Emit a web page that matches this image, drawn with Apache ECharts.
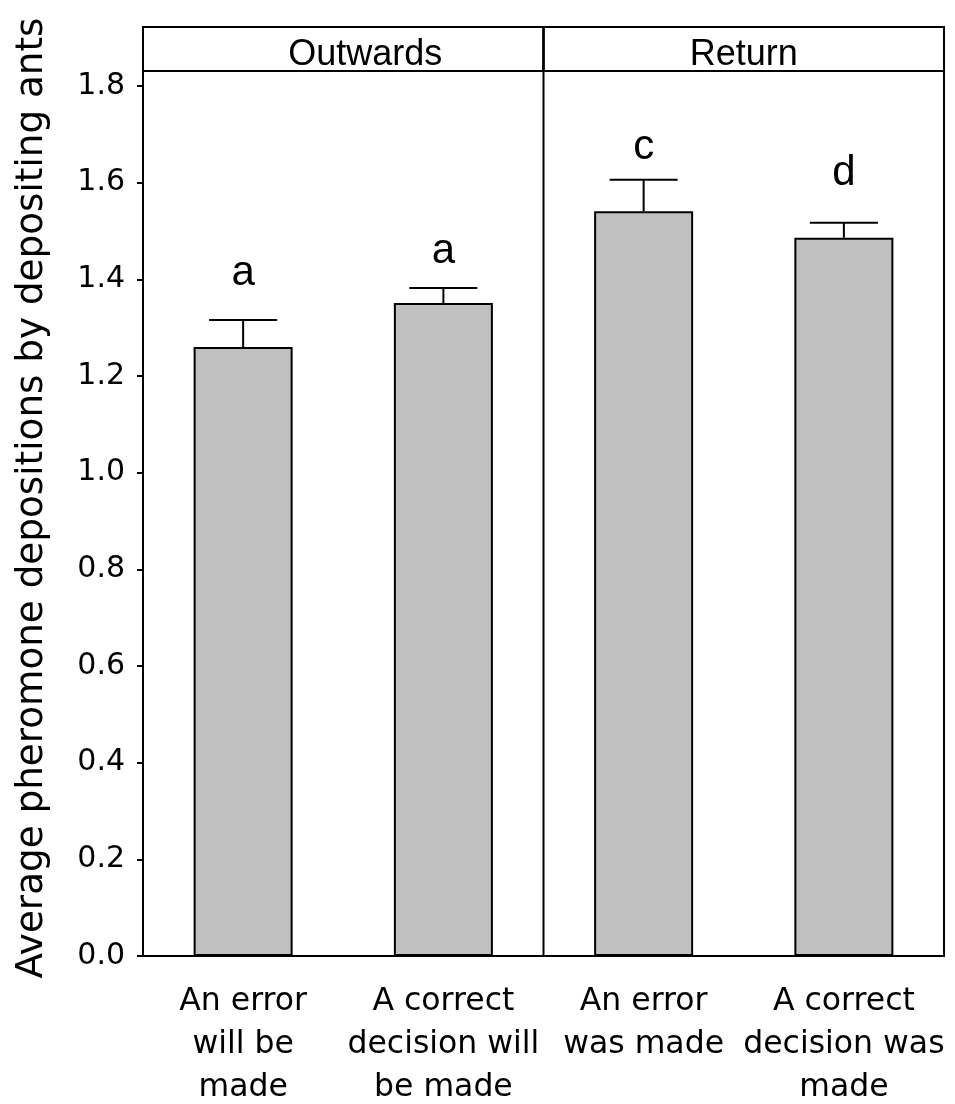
<!DOCTYPE html>
<html>
<head>
<meta charset="utf-8">
<script src="https://cdn.jsdelivr.net/npm/echarts@6/dist/echarts.min.js"></script>
<style>html,body{margin:0;padding:0;background:#fff}#c{width:955px;height:1104px}</style>
</head>
<body>
<div id="c"></div>
<script>
const categories = ['An error\nwill be\nmade', 'A correct\ndecision will\nbe made', 'An error\nwas made', 'A correct\ndecision was\nmade'];
const means = [1.260, 1.351, 1.541, 1.486];
const errors = [0.056, 0.031, 0.065, 0.031];
const letters = ['a', 'a', 'c', 'd'];
const letterY = [1.413, 1.457, 1.672, 1.620];
const sections = ['Outwards', 'Return'];
const sectionSpan = [[0, 2], [2, 4]];
const sectionLabelX = [1.11, 3.0];
const yTicks = [0, 0.2, 0.4, 0.6, 0.8, 1.0, 1.2, 1.4, 1.6, 1.8];
const yMax = 1.922;
const headerBottom = 1.831;
const yTitle = 'Average pheromone depositions by depositing ants';

const tickFont = '"DejaVu Sans", Verdana, sans-serif';

const chart = echarts.init(document.getElementById('c'), null, {renderer: 'canvas'});
chart.setOption({
  animation: false,
  backgroundColor: '#fff',
  grid: {left: 143, right: 11, top: 27, bottom: 148, outerBoundsMode: 'none', containLabel: false,
    show: true, borderColor: '#000', borderWidth: 2, backgroundColor: 'transparent'},
  xAxis: [{
    type: 'category', data: categories,
    axisLine: {lineStyle: {color: '#000', width: 2}},
    axisTick: {alignWithLabel: true, length: 9, lineStyle: {color: '#000', width: 2}},
    axisLabel: {color: '#000', fontFamily: tickFont, fontSize: 31.5, lineHeight: 43, margin: 24, interval: 0}
  }, {
    type: 'value', min: 0, max: 4, show: false
  }],
  yAxis: {
    type: 'value', min: 0, max: yMax, interval: 0.2,
    name: yTitle, nameLocation: 'middle', nameGap: 92, nameRotate: 90,
    nameTextStyle: {color: '#000', fontFamily: tickFont, fontSize: 37.3, padding: [0, 13, 0, 0]},
    axisLine: {show: true, lineStyle: {color: '#000', width: 2}},
    axisTick: {show: true, length: 6, customValues: yTicks, lineStyle: {color: '#000', width: 2}},
    axisLabel: {color: '#000', fontFamily: tickFont, fontSize: 30, margin: 18, customValues: yTicks,
      formatter: v => v.toFixed(1)},
    splitLine: {show: false}
  },
  series: [{
    type: 'bar', data: means, barWidth: 99,
    itemStyle: {color: '#c0c0c0', borderColor: '#000', borderWidth: 2}
  }, {
    type: 'custom',
    data: means.map((m, i) => [i, m, errors[i]]),
    z: 3,
    renderItem(params, api) {
      const x = api.value(0), y = api.value(1), e = api.value(2);
      const b = api.coord([x, y]);
      const t = api.coord([x, y + e]);
      const half = api.size([1, 0])[0] * 0.17;
      const st = {stroke: '#000', lineWidth: 2};
      return {type: 'group', children: [
        {type: 'line', shape: {x1: b[0], y1: b[1], x2: t[0], y2: t[1]}, style: st},
        {type: 'line', shape: {x1: t[0] - half, y1: t[1], x2: t[0] + half, y2: t[1]}, style: st}
      ]};
    }
  }, {
    type: 'custom',
    data: letters.map((l, i) => [i, letterY[i]]),
    z: 3,
    renderItem(params, api) {
      const p = api.coord([api.value(0), api.value(1)]);
      return {type: 'text', style: {text: letters[params.dataIndex], x: p[0], y: p[1],
        align: 'center', verticalAlign: 'middle', fill: '#000', opacity: 1,
        font: '42px "Liberation Sans", Arial, sans-serif'}};
    }
  }, {
    type: 'custom', xAxisIndex: 1, yAxisIndex: 0,
    data: sections.map((s, i) => [sectionSpan[i][0], sectionSpan[i][1], sectionLabelX[i]]),
    z: 4,
    renderItem(params, api) {
      const x0 = api.value(0), x1 = api.value(1), lx = api.value(2);
      const p0 = api.coord([x0, yMax]);
      const p1 = api.coord([x1, headerBottom]);
      const base = api.coord([x0, 0]);
      const lp = api.coord([lx, (yMax + headerBottom) / 2]);
      const st = {stroke: '#000', lineWidth: 2, fill: null};
      const children = [
        {type: 'rect', shape: {x: p0[0], y: p0[1], width: p1[0] - p0[0], height: p1[1] - p0[1]}, style: st},
        {type: 'text', style: {text: sections[params.dataIndex], x: lp[0], y: lp[1] + 6,
          align: 'center', verticalAlign: 'middle', fill: '#000',
          font: '36px "Liberation Sans", Arial, sans-serif'}}
      ];
      if (x0 > 0) {
        children.push({type: 'line', shape: {x1: p0[0], y1: p0[1], x2: base[0], y2: base[1]}, style: st});
      }
      return {type: 'group', children};
    }
  }]
});
</script>
</body>
</html>
